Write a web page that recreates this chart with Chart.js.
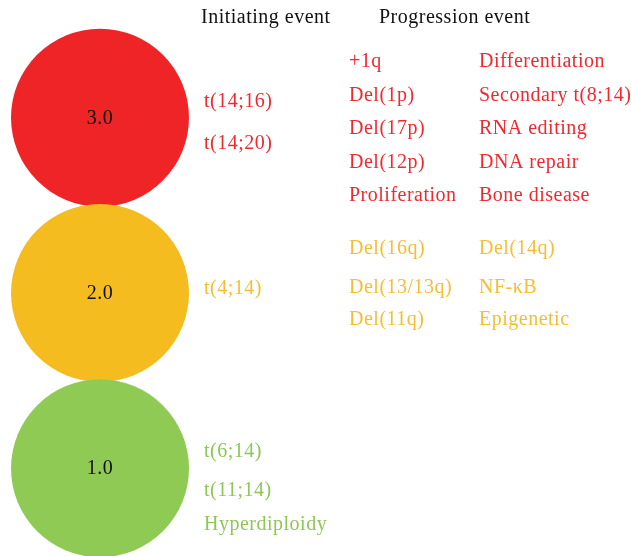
<!DOCTYPE html>
<html>
<head>
<meta charset="utf-8">
<script src="https://cdn.jsdelivr.net/npm/chart.js"></script>
<style>
body{margin:0;background:#fff;}
#wrap{width:632px;height:556px;position:relative;}
</style>
</head>
<body>
<div id="wrap"><canvas id="myChart"></canvas></div>
<script>
var levels = [3, 2, 1];
var levelLabels = ["3.0", "2.0", "1.0"];
var colors = ["#ee2427", "#f5bc1f", "#8fca55"];
var textColors = ["#ee2a30", "#f5bd35", "#8dc758"];
var headers = ["Initiating event", "Progression event"];
var initiating = [
  ["t(14;16)", "t(14;20)"],
  ["t(4;14)"],
  ["t(6;14)", "t(11;14)", "Hyperdiploidy"]
];
var progression1 = [
  ["+1q", "Del(1p)", "Del(17p)", "Del(12p)", "Proliferation"],
  ["Del(16q)", "Del(13/13q)", "Del(11q)"],
  []
];
var progression2 = [
  ["Differentiation", "Secondary t(8;14)", "RNA editing", "DNA repair", "Bone disease"],
  ["Del(14q)", "NF-\u03BAB", "Epigenetic"],
  []
];

// baseline offsets of each text line, relative to the bubble centre
var initOffsets = [[-11, 31], [1], [-11, 28, 62]];
var progOffsets = [[-51, -17, 16, 50, 83], [-39, 0, 32], []];

var font = "20px 'Liberation Serif', 'DejaVu Serif', serif";

var textPlugin = {
  id: "texts",
  afterDatasetsDraw: function(chart) {
    var ctx = chart.ctx;
    var ys = chart.scales.y;
    var xs = chart.scales.x;
    ctx.save();
    ctx.font = font;
    ctx.letterSpacing = "0.5px";
    ctx.textBaseline = "alphabetic";
    ctx.fillStyle = "#111";
    ctx.textAlign = "left";
    ctx.fillText(headers[0], 201, 23);
    ctx.fillText(headers[1], 379, 23);
    levels.forEach(function(v, i) {
      var cy = ys.getPixelForValue(v);
      ctx.fillStyle = "#111";
      ctx.textAlign = "center";
      ctx.fillText(levelLabels[i], xs.getPixelForValue(1), cy + 6);
      ctx.textAlign = "left";
      ctx.fillStyle = textColors[i];
      initiating[i].forEach(function(t, k) {
        ctx.fillText(t, 204, cy + initOffsets[i][k]);
      });
      progression1[i].forEach(function(t, k) {
        ctx.fillText(t, 349, cy + progOffsets[i][k]);
      });
      progression2[i].forEach(function(t, k) {
        ctx.fillText(t, 479, cy + progOffsets[i][k]);
      });
    });
    ctx.restore();
  }
};

new Chart("myChart", {
  type: "bubble",
  data: {
    datasets: [{
      data: levels.map(function(v) { return {x: 1, y: v, r: 89}; }),
      backgroundColor: colors,
      hoverBackgroundColor: colors,
      borderWidth: 0,
      hoverBorderWidth: 0,
      clip: false
    }]
  },
  options: {
    responsive: true,
    maintainAspectRatio: false,
    animation: false,
    layout: {autoPadding: false, padding: {left: 10, right: 442, top: 30, bottom: 0}},
    plugins: {legend: {display: false}, tooltip: {enabled: false}},
    scales: {
      x: {display: false, min: 0, max: 2},
      y: {display: false, min: 0.5, max: 3.5}
    }
  },
  plugins: [textPlugin]
});
</script>
</body>
</html>
